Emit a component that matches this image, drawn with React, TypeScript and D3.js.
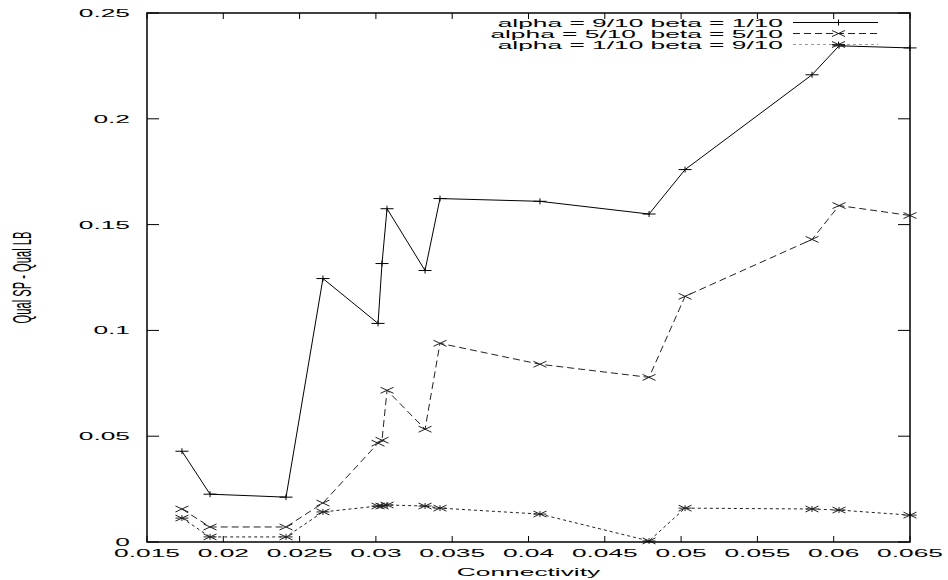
import React from 'react'
import * as d3 from 'd3'

// connectivity values shared by all three runs
const connectivity = [0.01729, 0.01913, 0.02411, 0.02653, 0.03014, 0.0304, 0.03073, 0.03322, 0.0342, 0.04075, 0.0479, 0.05026, 0.05858, 0.06035, 0.065];
const serA = [0.0429, 0.0226, 0.0212, 0.1245, 0.1033, 0.1316, 0.1575, 0.1283, 0.1623, 0.161, 0.155, 0.176, 0.2208, 0.2345, 0.2335];
const serB = [0.0156, 0.0071, 0.0071, 0.0184, 0.0467, 0.0481, 0.0717, 0.0533, 0.0939, 0.084, 0.0778, 0.1161, 0.143, 0.159, 0.1543];
const serC = [0.0113, 0.0024, 0.0024, 0.0142, 0.017, 0.017, 0.0175, 0.017, 0.016, 0.0132, 0.0005, 0.016, 0.0156, 0.0151, 0.0127];
const seriesNames = ['alpha = 9/10 beta = 1/10', 'alpha = 5/10  beta = 5/10', 'alpha = 1/10 beta = 9/10'];
const xTicks = [0.015, 0.02, 0.025, 0.03, 0.035, 0.04, 0.045, 0.05, 0.055, 0.06, 0.065];
const yTicks = [0, 0.05, 0.1, 0.15, 0.2, 0.25];

const W = 948, H = 580;
const left = 147, right = 910, top = 13, bottom = 542;
const SX = 2.35; // text is stretched horizontally in the original
const FONT = '"Liberation Sans", Arial, Helvetica, sans-serif';

const x = d3.scaleLinear().domain([0.015, 0.065]).range([left, right]);
const y = d3.scaleLinear().domain([0, 0.25]).range([bottom, top]);

const styles = [
  { stroke: '#000', dash: null, marker: 'plus' },
  { stroke: '#222', dash: '7,4', marker: 'cross' },
  { stroke: '#222', dash: '3,3', marker: 'star' },
];

function markerPath(kind: string, cx: number, cy: number) {
  const hw = 6.5, hh = 3;
  const plus = `M${cx - hw},${cy}H${cx + hw}M${cx},${cy - hh}V${cy + hh}`;
  const cross = `M${cx - hw},${cy - hh}L${cx + hw},${cy + hh}M${cx - hw},${cy + hh}L${cx + hw},${cy - hh}`;
  if (kind === 'plus') return plus;
  if (kind === 'cross') return cross;
  return plus + cross;
}

function fmt(v: number) {
  return String(+v.toFixed(3));
}

export default function App() {
  const all = [serA, serB, serC];
  const line = d3.line<number>().x((_, i) => x(connectivity[i])).y(d => y(d));
  const legX1 = 793, legX2 = 878, legTextX = 783;
  const legRows = [22.5, 33.5, 44.5];
  return (
    <svg width={W} height={H} style={{ position: 'absolute', left: 0, top: 0, background: '#fff' }} fontFamily={FONT} fontSize={11.2}>
      <rect x={0} y={0} width={W} height={H} fill="#fff" />
      {/* ticks */}
      {yTicks.map(t => (
        <g key={'y' + t}>
          <line x1={left} x2={left + 12} y1={y(t)} y2={y(t)} stroke="#000" />
          <line x1={right - 12} x2={right} y1={y(t)} y2={y(t)} stroke="#000" />
          <g transform={`translate(130,${y(t)}) scale(${SX},1)`}>
            <text textAnchor="end" dy="0.36em" fill="#000">{fmt(t)}</text>
          </g>
        </g>
      ))}
      {xTicks.map(t => (
        <g key={'x' + t}>
          <line x1={x(t)} x2={x(t)} y1={bottom} y2={bottom - 6} stroke="#000" />
          <line x1={x(t)} x2={x(t)} y1={top} y2={top + 6} stroke="#000" />
          <g transform={`translate(${x(t)},557) scale(${SX},1)`}>
            <text textAnchor="middle" fill="#000">{fmt(t)}</text>
          </g>
        </g>
      ))}
      {/* series */}
      {all.map((s, k) => (
        <g key={'s' + k}>
          <path d={line(s) || ''} fill="none" stroke={styles[k].stroke} strokeWidth={1} strokeDasharray={styles[k].dash || undefined} />
          {s.map((v, i) => (
            <path key={i} d={markerPath(styles[k].marker, x(connectivity[i]), y(v))} stroke={styles[k].stroke} strokeWidth={1} fill="none" />
          ))}
        </g>
      ))}
      {/* legend */}
      {seriesNames.map((n, k) => (
        <g key={'l' + k}>
          <g transform={`translate(${legTextX},${legRows[k] + 4}) scale(${SX},1)`}>
            <text textAnchor="end" fill="#000" fontSize={11.2} style={{ whiteSpace: 'pre' }}>{n}</text>
          </g>
          <line x1={legX1} x2={legX2} y1={legRows[k]} y2={legRows[k]} stroke={k === 2 ? '#999' : styles[k].stroke} strokeDasharray={styles[k].dash || undefined} />
          <path d={markerPath(styles[k].marker, (legX1 + legX2) / 2 + 3, legRows[k])} stroke={styles[k].stroke} fill="none" />
        </g>
      ))}
      {/* frame */}
      <rect x={left} y={top} width={right - left} height={bottom - top} fill="none" stroke="#000" strokeWidth={1.5} />
      {/* axis titles */}
      <g transform={`translate(${(left + right) / 2},576) scale(${SX},1)`}>
        <text textAnchor="middle" fill="#000">Connectivity</text>
      </g>
      <g transform={`translate(31,${(top + bottom) / 2}) scale(${SX},1) rotate(-90)`}>
        <text textAnchor="middle" fill="#000">Qual SP - Qual LB</text>
      </g>
    </svg>
  );
}
